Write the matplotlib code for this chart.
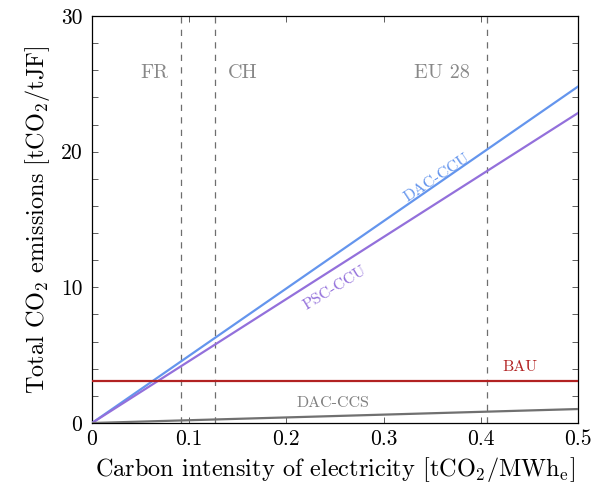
import matplotlib
matplotlib.use("Agg")
import matplotlib.pyplot as plt
import numpy as np

plt.rcParams['font.family'] = ['cmr10', 'DejaVu Serif']
plt.rcParams['mathtext.fontset'] = 'cm'
plt.rcParams['axes.unicode_minus'] = False
plt.rcParams['axes.formatter.use_mathtext'] = True

# Data
x_range = [0.0, 0.5]
dac_ccu = [0.0, 24.8]
psc_ccu = [0.0, 22.85]
bau = [3.1, 3.1]
dac_ccs = [0.0, 1.03]
countries = ["FR", "CH", "EU 28"]
country_ci = [0.0915, 0.1265, 0.406]
country_label_x = [0.064, 0.155, 0.36]

xticks = [0, 0.1, 0.2, 0.3, 0.4, 0.5]
xticklabels = ["0", "0.1", "0.2", "0.3", "0.4", "0.5"]
yticks = list(range(0, 31, 2))
ylabels_shown = [0, 10, 20, 30]

c_dac = "#6495ED"
c_psc = "#9370DB"
c_bau = "#B22222"
c_ccs = "#707070"
c_dash = "#6e6e6e"

fig = plt.figure(figsize=(6, 4.9), dpi=100)
ax = fig.add_axes([0.1533, 0.1367, 0.81, 0.8306])

for xc in country_ci:
    ax.axvline(xc, color=c_dash, ls=(0, (5, 5)), lw=0.9, zorder=1)

ax.plot(x_range, dac_ccu, color=c_dac, lw=1.6, zorder=3)
ax.plot(x_range, psc_ccu, color=c_psc, lw=1.6, zorder=3)
ax.plot(x_range, bau, color=c_bau, lw=1.6, zorder=3)
ax.plot(x_range, dac_ccs, color=c_ccs, lw=1.6, zorder=3)

ax.set_xlim(0, 0.5)
ax.set_ylim(0, 30)

ax.set_xticks(xticks)
ax.set_xticklabels(xticklabels)
ax.set_yticks(yticks)
ax.set_yticklabels([str(v) if v in ylabels_shown else "" for v in yticks])
ax.tick_params(direction='in', top=True, right=True, length=4, width=0.6,
               labelsize=15.5, colors='#444444', labelcolor='black')
ax.tick_params(axis='x', pad=5)
ax.tick_params(axis='y', pad=7)

for s in ax.spines.values():
    s.set_linewidth(0.9)

ax.set_xlabel(r"Carbon intensity of electricity [tCO$_2$/MWh$_\mathrm{e}$]", fontsize=17.5, labelpad=4)
ax.set_ylabel(r"Total CO$_2$ emissions [tCO$_2$/tJF]", fontsize=17.5, labelpad=6)

for name, lx in zip(countries, country_label_x):
    ax.text(lx, 25.8, name, color="#888888", fontsize=14.5, ha='center', va='center')

ax.text(0.355, 18.1, "DAC-CCU", color=c_dac, fontsize=11.5, rotation=33.5,
        ha='center', va='center', rotation_mode='anchor')
ax.text(0.25, 9.95, "PSC-CCU", color=c_psc, fontsize=11.5, rotation=31.5,
        ha='center', va='center', rotation_mode='anchor')
ax.text(0.44, 4.1, "BAU", color=c_bau, fontsize=11.5, ha='center', va='center')
ax.text(0.248, 1.47, "DAC-CCS", color="#808080", fontsize=11.5, ha='center', va='center')

fig.savefig("out.png", dpi=100)
